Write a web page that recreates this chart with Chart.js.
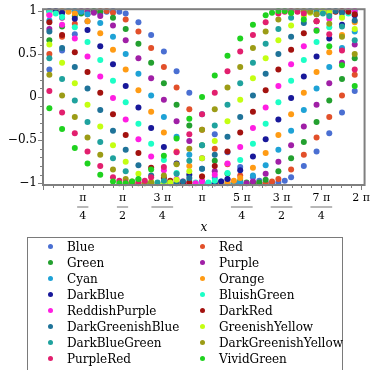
<!DOCTYPE html>
<html>
<head>
<meta charset="utf-8">
<script src="https://cdn.jsdelivr.net/npm/chart.js@4"></script>
<style>
  html, body { margin: 0; padding: 0; background: #fff; }
  #wrap { position: relative; width: 370px; height: 370px; overflow: hidden; }
  #chart { position: absolute; left: 0; top: 0; }
  #legend { position: absolute; left: 27px; top: 237px; width: 314px; height: 140px;
            border: 1.5px solid #7a7a7a; font: 12px 'DejaVu Serif', serif; color: #000; }
  .item { position: absolute; white-space: nowrap; line-height: 16px; height: 16px; }
  .dot { position: absolute; width: 5px; height: 5px; border-radius: 50%; }
</style>
</head>
<body>
<div id="wrap">
  <canvas id="chart" width="370" height="370"></canvas>
  <div id="legend"></div>
</div>
<script>
// main sample columns along x (radians)
const xValues = [0.1257, 0.3770, 0.6283, 0.8796, 1.1310, 1.3823, 1.6336, 1.8850, 2.1363, 2.3876,
  2.6389, 2.8903, 3.1416, 3.3929, 3.6442, 3.8956, 4.1469, 4.3982, 4.6496, 4.9009,
  5.1522, 5.4035, 5.6549, 5.9062, 6.1575];
// extra in-between samples, only present near each curve's peak / trough
const xMid = [0.2513, 0.5027, 0.7540, 1.0053, 1.2566, 1.5080, 1.7593, 2.0106, 2.2619, 2.5133,
  2.7646, 3.0159, 3.2673, 3.5186, 3.7699, 4.0212, 4.2726, 4.5239, 4.7752, 5.0265,
  5.2779, 5.5292, 5.7805, 6.0319];

const blue = [0.32,0.54,0.73,0.88,0.97,1.00,0.97,0.87,0.72,0.53,0.30,0.05,-0.20,-0.43,-0.64,-0.81,-0.93,-0.99,-0.99,-0.93,-0.80,-0.63,-0.42,-0.18,0.07];
const red = [0.50,0.70,0.85,0.96,1.00,0.98,0.90,0.76,0.57,0.35,0.11,-0.14,-0.38,-0.60,-0.78,-0.91,-0.99,-1.00,-0.95,-0.84,-0.67,-0.47,-0.23,0.02,0.26];
const green = [0.66,0.82,0.94,0.99,0.99,0.92,0.79,0.62,0.40,0.16,-0.09,-0.33,-0.56,-0.74,-0.89,-0.97,-1.00,-0.96,-0.86,-0.71,-0.52,-0.29,-0.04,0.21,0.45];
const purple = [0.79,0.92,0.99,1.00,0.94,0.83,0.66,0.45,0.22,-0.03,-0.28,-0.51,-0.71,-0.86,-0.96,-1.00,-0.98,-0.89,-0.75,-0.56,-0.34,-0.09,0.16,0.40,0.61];
const cyan = [0.89,0.98,1.00,0.96,0.86,0.70,0.50,0.27,0.02,-0.23,-0.46,-0.67,-0.83,-0.94,-1.00,-0.99,-0.91,-0.79,-0.61,-0.39,-0.15,0.10,0.35,0.57,0.76];
const orange = [0.96,1.00,0.97,0.88,0.74,0.55,0.32,0.08,-0.17,-0.41,-0.63,-0.80,-0.92,-0.99,-0.99,-0.94,-0.82,-0.65,-0.44,-0.20,0.05,0.29,0.52,0.72,0.87];
const darkBlue = [1.00,0.98,0.91,0.78,0.59,0.38,0.13,-0.12,-0.36,-0.58,-0.77,-0.90,-0.98,-1.00,-0.95,-0.85,-0.69,-0.49,-0.26,-0.01,0.24,0.47,0.68,0.84,0.95];
const bluishGreen = [0.99,0.93,0.81,0.64,0.43,0.19,-0.06,-0.31,-0.54,-0.73,-0.88,-0.97,-1.00,-0.97,-0.88,-0.73,-0.54,-0.31,-0.06,0.19,0.43,0.64,0.81,0.93,0.99];
const reddishPurple = [0.95,0.84,0.68,0.47,0.24,-0.01,-0.26,-0.49,-0.69,-0.85,-0.95,-1.00,-0.98,-0.90,-0.77,-0.58,-0.36,-0.12,0.13,0.38,0.59,0.78,0.91,0.98,1.00];
const darkRed = [0.87,0.72,0.52,0.29,0.05,-0.20,-0.44,-0.65,-0.82,-0.94,-0.99,-0.99,-0.92,-0.80,-0.63,-0.41,-0.17,0.08,0.32,0.55,0.74,0.88,0.97,1.00,0.96];
const darkGreenishBlue = [0.76,0.57,0.35,0.10,-0.15,-0.39,-0.61,-0.79,-0.91,-0.99,-1.00,-0.94,-0.83,-0.67,-0.46,-0.23,0.02,0.27,0.50,0.70,0.86,0.96,1.00,0.98,0.89];
const greenishYellow = [0.61,0.40,0.16,-0.09,-0.34,-0.56,-0.75,-0.89,-0.98,-1.00,-0.96,-0.86,-0.71,-0.51,-0.28,-0.03,0.22,0.45,0.66,0.83,0.94,1.00,0.99,0.92,0.79];
const darkBlueGreen = [0.45,0.21,-0.04,-0.29,-0.52,-0.71,-0.86,-0.96,-1.00,-0.97,-0.89,-0.74,-0.56,-0.33,-0.09,0.16,0.40,0.62,0.79,0.92,0.99,0.99,0.94,0.82,0.66];
const darkGreenishYellow = [0.26,0.02,-0.23,-0.47,-0.67,-0.84,-0.95,-1.00,-0.99,-0.91,-0.78,-0.60,-0.38,-0.14,0.11,0.35,0.57,0.76,0.90,0.98,1.00,0.96,0.85,0.70,0.50];
const purpleRed = [0.07,-0.18,-0.42,-0.63,-0.80,-0.93,-0.99,-0.99,-0.93,-0.81,-0.64,-0.43,-0.20,0.05,0.30,0.53,0.72,0.87,0.97,1.00,0.97,0.88,0.73,0.54,0.32];
const vividGreen = [-0.13,-0.37,-0.59,-0.77,-0.90,-0.98,-1.00,-0.95,-0.84,-0.68,-0.48,-0.25,0.00,0.25,0.48,0.68,0.84,0.95,1.00,0.98,0.90,0.77,0.59,0.37,0.13];

const n = null;
const blueMid = [n,n,n,n,0.99,0.99,n,n,n,n,n,n,n,n,n,n,-0.97,-1.00,-0.97,n,n,n,n,n];
const redMid = [n,n,n,0.99,1.00,n,n,n,n,n,n,n,n,n,n,n,-1.00,-0.98,n,n,n,n,n,n];
const greenMid = [n,n,0.97,1.00,n,n,n,n,n,n,n,n,n,n,n,-0.99,-0.99,n,n,n,n,n,n,n];
const purpleMid = [n,n,1.00,0.98,n,n,n,n,n,n,n,n,n,n,-0.99,-1.00,n,n,n,n,n,n,n,n];
const cyanMid = [n,1.00,0.99,n,n,n,n,n,n,n,n,n,n,-0.98,-1.00,n,n,n,n,n,n,n,n,n];
const orangeMid = [0.99,0.99,n,n,n,n,n,n,n,n,n,n,n,-1.00,-0.97,n,n,n,n,n,n,n,n,n];
const darkBlueMid = [1.00,n,n,n,n,n,n,n,n,n,n,n,-1.00,-0.98,n,n,n,n,n,n,n,n,n,n];
const bluishGreenMid = [0.97,n,n,n,n,n,n,n,n,n,n,-0.99,-0.99,n,n,n,n,n,n,n,n,n,n,0.97];
const reddishPurpleMid = [n,n,n,n,n,n,n,n,n,n,-0.98,-1.00,n,n,n,n,n,n,n,n,n,n,n,1.00];
const darkRedMid = [n,n,n,n,n,n,n,n,n,-0.97,-1.00,n,n,n,n,n,n,n,n,n,n,n,0.99,0.99];
const darkGreenishBlueMid = [n,n,n,n,n,n,n,n,n,-1.00,-0.98,n,n,n,n,n,n,n,n,n,n,0.99,1.00,n];
const greenishYellowMid = [n,n,n,n,n,n,n,n,-1.00,-0.99,n,n,n,n,n,n,n,n,n,n,0.98,1.00,n,n];
const darkBlueGreenMid = [n,n,n,n,n,n,n,-0.99,-0.99,n,n,n,n,n,n,n,n,n,n,n,1.00,0.97,n,n];
const darkGreenishYellowMid = [n,n,n,n,n,n,-0.98,-1.00,n,n,n,n,n,n,n,n,n,n,n,1.00,0.99,n,n,n];
const purpleRedMid = [n,n,n,n,n,-0.97,-1.00,-0.97,n,n,n,n,n,n,n,n,n,n,0.99,0.99,n,n,n,n];
const vividGreenMid = [n,n,n,n,n,-1.00,-0.98,n,n,n,n,n,n,n,n,n,n,0.98,1.00,n,n,n,n,n];

const seriesNames = ['Blue', 'Red', 'Green', 'Purple', 'Cyan', 'Orange', 'DarkBlue', 'BluishGreen',
  'ReddishPurple', 'DarkRed', 'DarkGreenishBlue', 'GreenishYellow', 'DarkBlueGreen',
  'DarkGreenishYellow', 'PurpleRed', 'VividGreen'];
const seriesValues = [blue, red, green, purple, cyan, orange, darkBlue, bluishGreen,
  reddishPurple, darkRed, darkGreenishBlue, greenishYellow, darkBlueGreen,
  darkGreenishYellow, purpleRed, vividGreen];
const seriesMid = [blueMid, redMid, greenMid, purpleMid, cyanMid, orangeMid, darkBlueMid, bluishGreenMid,
  reddishPurpleMid, darkRedMid, darkGreenishBlueMid, greenishYellowMid, darkBlueGreenMid,
  darkGreenishYellowMid, purpleRedMid, vividGreenMid];
const seriesColors = ['#4a6fd2', '#e2502a', '#23a02f', '#a01fa6', '#1ea2d6', '#ff9b14', '#18189a', '#1cffc6',
  '#ff1ee2', '#a3120f', '#1f7399', '#c4ff12', '#1fa29e', '#9c9c16', '#e21f6e', '#1fd21f'];

// tick labels at multiples of pi/4 and of 0.5
const xTickLabels = ['', ['π', '4'], ['π', '2'], ['3 π', '4'], 'π', ['5 π', '4'], ['3 π', '2'], ['7 π', '4'], '2 π'];
const yTickLabels = ['−1', '−0.5', '0', '0.5', '1'];

const tickFont = { family: 'DejaVu Serif', size: 11, lineHeight: 18 / 11 };
const frameColor = '#7f7f7f';

const framePlugin = {
  id: 'frame',
  afterDraw(chart) {
    const { ctx, chartArea: a } = chart;
    const xs = chart.scales.x, ys = chart.scales.y;
    ctx.save();
    ctx.strokeStyle = frameColor;
    ctx.lineWidth = 1;
    xs.ticks.forEach((t, i) => {
      const px = Math.round(xs.getPixelForValue(t.value)) + 0.5;
      const len = i % 4 === 0 ? 5 : 3;
      ctx.beginPath(); ctx.moveTo(px, a.bottom); ctx.lineTo(px, a.bottom + len); ctx.stroke();
    });
    ys.ticks.forEach((t, i) => {
      const py = Math.round(ys.getPixelForValue(t.value)) + 0.5;
      const len = i % 5 === 0 ? 5 : 3;
      ctx.beginPath(); ctx.moveTo(a.left, py); ctx.lineTo(a.left - len, py); ctx.stroke();
    });
    // fraction bars between numerator and denominator
    ctx.font = '11px "DejaVu Serif"';
    ctx.strokeStyle = '#a0a0a0';
    ctx.lineWidth = 1.5;
    xs.ticks.forEach((t, i) => {
      if (i % 4 !== 0) return;
      const lab = xTickLabels[i / 4];
      if (!Array.isArray(lab)) return;
      const w = Math.max(ctx.measureText(lab[0]).width, ctx.measureText(lab[1]).width) + 4;
      const px = xs.getPixelForValue(t.value);
      const by = a.bottom + 4 + 18;
      ctx.beginPath(); ctx.moveTo(px - w / 2, by); ctx.lineTo(px + w / 2, by); ctx.stroke();
    });
    ctx.strokeStyle = frameColor;
    ctx.lineWidth = 2;
    ctx.strokeRect(a.left, a.top, a.right - a.left, a.bottom - a.top);
    ctx.restore();
  }
};

const datasets = seriesNames.map((name, k) => {
  const pts = xValues.map((x, i) => ({ x: x, y: seriesValues[k][i] }));
  xMid.forEach((x, j) => {
    if (seriesMid[k][j] !== null) pts.push({ x: x, y: seriesMid[k][j] });
  });
  pts.sort((p, q) => p.x - q.x);
  return {
    label: name,
    data: pts,
    backgroundColor: seriesColors[k],
    borderWidth: 0,
    pointRadius: 3,
    order: seriesNames.length - k,
    clip: false
  };
});

new Chart(document.getElementById('chart'), {
  type: 'scatter',
  data: { datasets: datasets },
  options: {
    responsive: false,
    animation: false,
    devicePixelRatio: 1,
    layout: { padding: { top: 7, right: 5, bottom: 135, left: 0 } },
    plugins: { legend: { display: false }, tooltip: { enabled: false } },
    scales: {
      x: {
        type: 'linear',
        min: 0,
        max: 6.352,
        afterBuildTicks: (scale) => {
          const t = [];
          for (let j = 0; j <= 32; j++) t.push({ value: j * Math.PI / 16 });
          scale.ticks = t;
        },
        afterFit: (scale) => { scale.height = 50; },
        border: { display: false },
        grid: { display: true, drawOnChartArea: false, drawTicks: true, tickLength: 4, tickColor: 'rgba(0,0,0,0)' },
        ticks: {
          autoSkip: false,
          maxRotation: 0,
          padding: 0,
          color: '#000',
          font: tickFont,
          callback: (v, i) => (i % 4 === 0 ? xTickLabels[i / 4] : '')
        },
        title: {
          display: true,
          text: 'x',
          color: '#000',
          padding: { top: 0, bottom: 0 },
          font: { family: 'DejaVu Serif', size: 12, style: 'italic' }
        }
      },
      y: {
        type: 'linear',
        min: -1.02,
        max: 1.02,
        afterBuildTicks: (scale) => {
          const t = [];
          for (let j = 0; j <= 20; j++) t.push({ value: -1 + j * 0.1 });
          scale.ticks = t;
        },
        afterFit: (scale) => { scale.width = 43; },
        border: { display: false },
        grid: { display: true, drawOnChartArea: false, drawTicks: true, tickLength: 4, tickColor: 'rgba(0,0,0,0)' },
        ticks: {
          autoSkip: false,
          padding: 2,
          color: '#000',
          font: { family: 'DejaVu Serif', size: 12 },
          callback: (v, i) => (i % 5 === 0 ? yTickLabels[i / 5] : '')
        }
      }
    }
  },
  plugins: [framePlugin]
});

// two-column legend, filled row by row
const legendBox = document.getElementById('legend');
seriesNames.forEach((name, k) => {
  const col = k % 2, row = Math.floor(k / 2);
  const dot = document.createElement('div');
  dot.className = 'dot';
  dot.style.background = seriesColors[k];
  dot.style.left = (20 + col * 152) + 'px';
  dot.style.top = (6 + row * 16) + 'px';
  legendBox.appendChild(dot);
  const item = document.createElement('div');
  item.className = 'item';
  item.textContent = name;
  item.style.left = (39 + col * 152) + 'px';
  item.style.top = (1 + row * 16) + 'px';
  legendBox.appendChild(item);
});
</script>
</body>
</html>
